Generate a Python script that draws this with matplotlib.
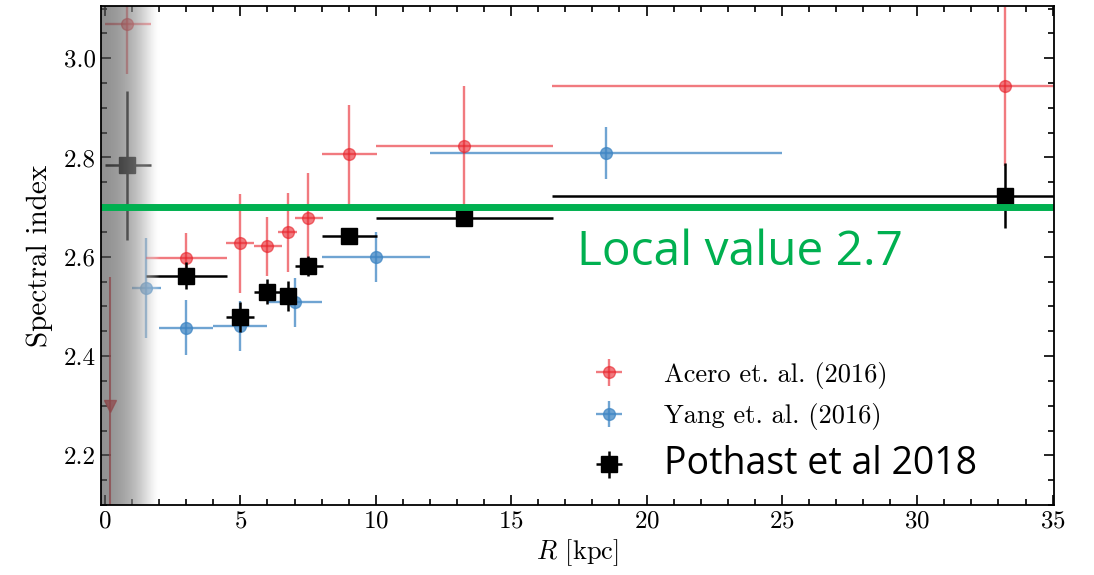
import numpy as np
import matplotlib
matplotlib.use('Agg')
import matplotlib.pyplot as plt
from matplotlib.ticker import MultipleLocator, FormatStrFormatter

plt.rcParams['mathtext.fontset'] = 'cm'
plt.rcParams['axes.formatter.use_mathtext'] = True

# ---------------- data ----------------
acero_R = [0.8, 3.0, 5.0, 6.0, 6.75, 7.5, 9.0, 13.25, 33.25]
acero_idx = [3.068, 2.597, 2.627, 2.621, 2.649, 2.678, 2.806, 2.823, 2.943]
acero_xlo = [0.8, 1.5, 0.55, 0.5, 0.35, 0.5, 1.0, 3.25, 16.75]
acero_xhi = [0.9, 1.5, 0.5, 0.55, 0.35, 0.55, 1.05, 3.3, 16.75]
acero_yerr = [0.10, 0.05, 0.10, 0.06, 0.08, 0.09, 0.10, 0.12, 0.16]

acero_lim_R = [0.2]
acero_lim_idx = [2.30]
acero_lim_ylo = [0.40]
acero_lim_yhi = [0.26]

yang_R = [1.5, 3.0, 5.0, 7.0, 10.0, 18.5]
yang_idx = [2.537, 2.457, 2.461, 2.508, 2.599, 2.809]
yang_xlo = [0.5, 1.0, 1.0, 1.0, 2.0, 6.5]
yang_xhi = [0.55, 1.0, 1.0, 1.0, 2.0, 6.5]
yang_yerr = [0.10, 0.055, 0.05, 0.05, 0.05, 0.052]

poth_R = [0.8, 3.0, 5.0, 6.0, 6.75, 7.5, 9.0, 13.25, 33.25]
poth_idx = [2.784, 2.562, 2.479, 2.530, 2.521, 2.582, 2.642, 2.679, 2.723]
poth_xlo = [0.8, 1.5, 0.55, 0.5, 0.25, 0.5, 1.0, 3.25, 16.75]
poth_xhi = [0.9, 1.5, 0.5, 0.55, 0.25, 0.55, 1.05, 3.3, 16.75]
poth_yerr = [0.15, 0.027, 0.03, 0.025, 0.03, 0.02, 0.015, 0.015, 0.065]

local_value = 2.7

labels = ['Acero et. al. (2016)', 'Yang et. al. (2016)', 'Pothast et al 2018']

# ---------------- figure ----------------
fig = plt.figure(figsize=(10.94, 5.75), dpi=100)
ax = fig.add_axes([0.0923, 0.1217, 0.8711, 0.8678])

red = '#e8222a'
blue = '#3f86c4'

h_yang = ax.errorbar(yang_R, yang_idx, xerr=[yang_xlo, yang_xhi], yerr=yang_yerr,
                     fmt='o', color=blue, ms=8.5, elinewidth=1.7, capsize=0,
                     alpha=0.75, zorder=2)
h_acero = ax.errorbar(acero_R, acero_idx, xerr=[acero_xlo, acero_xhi], yerr=acero_yerr,
                      fmt='o', color=red, ms=8.5, elinewidth=1.7, capsize=0,
                      alpha=0.6, zorder=3)
ax.errorbar(acero_lim_R, acero_lim_idx, yerr=[acero_lim_ylo, acero_lim_yhi],
            fmt='v', color=red, ms=9, elinewidth=1.5, capsize=0, alpha=0.75, zorder=3)
h_poth = ax.errorbar(poth_R, poth_idx, xerr=[poth_xlo, poth_xhi], yerr=poth_yerr,
                     fmt='s', color='black', ms=12, elinewidth=1.8, capsize=0,
                     zorder=4)

xlim = (-0.15, 35.05)
ylim = (2.1, 3.105)

# grey gradient band near the Galactic centre
n = 256
t = np.linspace(0, 1, n)
shade = 0.34 + 0.66 * t ** 1.8
img = np.zeros((1, n, 4))
img[0, :, 0] = shade
img[0, :, 1] = shade
img[0, :, 2] = shade
img[0, :, 3] = 0.65 * (1 - t ** 6)
ax.imshow(img, extent=[xlim[0], 2.0, ylim[0], ylim[1]], aspect='auto',
          interpolation='bilinear', zorder=5)

ax.axhline(local_value, color='#00b050', lw=5, zorder=6)
ax.text(17.45, 2.61, 'Local value 2.7', color='#00b050', fontsize=34.5,
        family='Open Sans', ha='left', va='center', zorder=7)

ax.set_xlim(*xlim)
ax.set_ylim(*ylim)

ax.xaxis.set_major_locator(MultipleLocator(5))
ax.xaxis.set_minor_locator(MultipleLocator(1))
ax.yaxis.set_major_locator(MultipleLocator(0.2))
ax.yaxis.set_minor_locator(MultipleLocator(0.05))
ax.yaxis.set_major_formatter(FormatStrFormatter('%.1f'))
ax.tick_params(which='both', direction='in', top=True, right=True, width=1.2,
               labelsize=18)
ax.tick_params(which='major', length=7)
ax.tick_params(which='minor', length=4)
for s in ax.spines.values():
    s.set_linewidth(1.3)
    s.set_zorder(8)

ax.set_ylabel('Spectral index', family='cmr10', fontsize=21, labelpad=8)
ax.set_xlabel(r'$R$ [kpc]', family='cmr10', fontsize=19, labelpad=4)

leg = ax.legend([h_acero, h_yang, h_poth], labels, loc='upper left',
                bbox_to_anchor=(0.49, 0.335), frameon=False, handlelength=1.3,
                handletextpad=1.45, labelspacing=0.55, fontsize=19)
txts = leg.get_texts()
txts[0].set_family('cmr10')
txts[1].set_family('cmr10')
txts[2].set_family('Open Sans')
txts[2].set_fontsize(27)
leg.set_zorder(9)

for lab in ax.get_xticklabels() + ax.get_yticklabels():
    lab.set_family('cmr10')

fig.savefig('out.png', dpi=100)
